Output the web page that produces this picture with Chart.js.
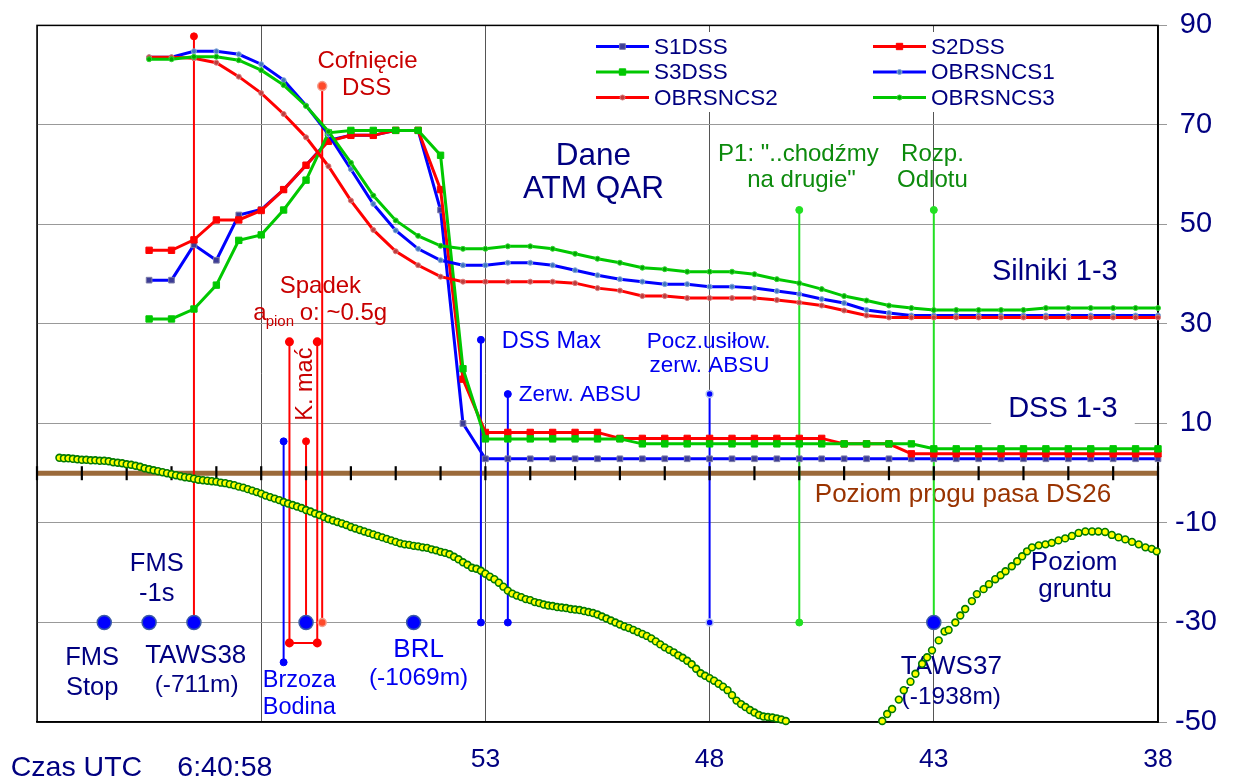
<!DOCTYPE html>
<html>
<head>
<meta charset="utf-8">
<script src="https://cdn.jsdelivr.net/npm/chart.js@4.4.1/dist/chart.umd.min.js"></script>
<style>
  html, body { margin: 0; padding: 0; background: #fff; }
  #wrap { width: 1233px; height: 780px; }
</style>
</head>
<body>
<div id="wrap"><canvas id="chart" width="1233" height="780"></canvas></div>
<script>
// ---- data (x = seconds of 6:40, y = % / height) ----
const times = [60.5, 60, 59.5, 59, 58.5, 58, 57.5, 57, 56.5, 56, 55.5, 55, 54.5, 54, 53.5, 53,
  52.5, 52, 51.5, 51, 50.5, 50, 49.5, 49, 48.5, 48, 47.5, 47, 46.5, 46, 45.5, 45, 44.5, 44, 43.5,
  43, 42.5, 42, 41.5, 41, 40.5, 40, 39.5, 39, 38.5, 38];

const s1dss = [38.8, 38.8, 45.9, 42.8, 51.9, 53.0, 57.0, 61.9, 66.9, 67.9, 67.9, 68.9, 68.9, 52.9, 10.0, 2.9,
  2.9, 2.9, 2.9, 2.9, 2.9, 2.9, 2.9, 2.9, 2.9, 2.9, 2.9, 2.9, 2.9, 2.9, 2.9, 2.9, 2.9, 2.9, 2.9,
  2.9, 2.9, 2.9, 2.9, 2.9, 2.9, 2.9, 2.9, 2.9, 2.9, 2.9];
const s2dss = [44.8, 44.8, 46.9, 50.9, 50.9, 52.8, 57.0, 61.9, 66.7, 67.9, 67.9, 68.9, 68.9, 57.0, 18.9, 8.2,
  8.2, 8.2, 8.2, 8.2, 8.2, 7.0, 7.0, 7.0, 7.0, 7.0, 7.0, 7.0, 7.0, 7.0, 7.0, 5.9, 5.9, 5.9, 3.9,
  3.9, 3.9, 3.9, 3.9, 3.9, 3.9, 3.9, 3.9, 3.9, 3.9, 3.9];
const s3dss = [31.0, 31.0, 33.0, 37.8, 46.8, 47.9, 52.9, 58.9, 68.4, 68.9, 68.9, 68.9, 68.9, 63.9, 21.0, 6.9,
  6.9, 6.9, 6.9, 6.9, 6.9, 6.9, 5.9, 5.9, 5.9, 5.9, 5.9, 5.9, 5.9, 5.9, 5.9, 5.9, 5.9, 5.9, 5.9,
  4.9, 4.9, 4.9, 4.9, 4.9, 4.9, 4.9, 4.9, 4.9, 4.9, 4.9];
const obrsncs1 = [83.6, 83.6, 84.8, 84.8, 84.2, 82.2, 79.0, 73.9, 68.1, 61.1, 54.1, 48.8, 45.1, 42.8, 41.8, 41.8,
  42.3, 42.3, 41.8, 40.8, 39.8, 39.0, 38.5, 38.0, 38.0, 37.5, 37.5, 37.2, 36.6, 36.0, 35.0, 34.2, 32.8, 32.2, 31.7,
  31.7, 31.7, 31.7, 31.7, 31.7, 31.7, 31.7, 31.7, 31.7, 31.7, 31.7];
const obrsncs2 = [83.6, 83.6, 83.4, 82.5, 79.7, 76.4, 72.2, 67.5, 61.7, 54.8, 48.9, 44.6, 41.8, 39.5, 38.5, 38.5,
  38.5, 38.5, 38.5, 38.2, 37.2, 36.7, 35.6, 35.6, 35.2, 35.2, 35.2, 35.2, 34.8, 34.3, 33.7, 32.7, 31.7, 31.3, 31.3,
  31.3, 31.3, 31.3, 31.3, 31.3, 31.3, 31.3, 31.3, 31.3, 31.3, 31.3];
const obrsncs3 = [83.2, 83.2, 83.7, 83.7, 83.0, 81.0, 78.0, 73.8, 68.7, 62.4, 55.8, 50.8, 47.7, 45.7, 45.1, 45.1,
  45.6, 45.6, 45.1, 44.1, 43.1, 42.3, 41.3, 41.0, 40.5, 40.5, 40.5, 40.0, 39.0, 38.2, 37.0, 35.6, 34.7, 33.7, 33.2,
  32.8, 32.8, 32.8, 32.8, 32.8, 33.2, 33.2, 33.2, 33.2, 33.2, 33.2];

// terrain profile ("Poziom gruntu"), before and after the gap
const groundLeftX = [62.5, 62.4, 62.3, 62.2, 62.1, 62.0, 61.9, 61.8, 61.7, 61.6,
  61.5, 61.4, 61.3, 61.2, 61.1, 61.0, 60.9, 60.8, 60.7, 60.6,
  60.5, 60.4, 60.3, 60.2, 60.1, 60.0, 59.9, 59.8, 59.7, 59.6,
  59.5, 59.4, 59.3, 59.2, 59.1, 59.0, 58.9, 58.8, 58.7, 58.6,
  58.5, 58.4, 58.3, 58.2, 58.1, 58.0, 57.9, 57.8, 57.7, 57.6,
  57.5, 57.4, 57.3, 57.2, 57.1, 57.0, 56.9, 56.8, 56.7, 56.6,
  56.5, 56.4, 56.3, 56.2, 56.1, 56.0, 55.9, 55.8, 55.7, 55.6,
  55.5, 55.4, 55.3, 55.2, 55.1, 55.0, 54.9, 54.8, 54.7, 54.6,
  54.5, 54.4, 54.3, 54.2, 54.1, 54.0, 53.9, 53.8, 53.7, 53.6,
  53.5, 53.4, 53.3, 53.2, 53.1, 53.0, 52.9, 52.8, 52.7, 52.6,
  52.5, 52.4, 52.3, 52.2, 52.1, 52.0, 51.9, 51.8, 51.7, 51.6,
  51.5, 51.4, 51.3, 51.2, 51.1, 51.0, 50.9, 50.8, 50.7, 50.6,
  50.5, 50.4, 50.3, 50.2, 50.1, 50.0, 49.9, 49.8, 49.7, 49.6,
  49.5, 49.4, 49.3, 49.2, 49.1, 49.0, 48.9, 48.8, 48.7, 48.6,
  48.5, 48.4, 48.3, 48.2, 48.1, 48.0, 47.9, 47.8, 47.7, 47.6,
  47.5, 47.4, 47.3, 47.2, 47.1, 47.0, 46.9, 46.8, 46.7, 46.6,
  46.5, 46.4, 46.3];
const groundLeftY = [3.1, 3.0, 3.0, 2.9, 2.8, 2.7, 2.7, 2.6, 2.6, 2.5,
  2.5, 2.4, 2.2, 2.1, 2.0, 1.8, 1.7, 1.5, 1.3, 1.0,
  0.8, 0.6, 0.4, 0.2, 0.0, -0.2, -0.4, -0.6, -0.8, -0.9,
  -1.1, -1.3, -1.4, -1.5, -1.6, -1.7, -1.9, -2.0, -2.2, -2.4,
  -2.7, -2.9, -3.2, -3.5, -3.8, -4.1, -4.5, -4.8, -5.1, -5.4,
  -5.8, -6.1, -6.4, -6.7, -7.0, -7.4, -7.7, -8.1, -8.4, -8.8,
  -9.2, -9.5, -9.8, -10.1, -10.4, -10.8, -11.1, -11.4, -11.7, -12.0,
  -12.3, -12.6, -12.9, -13.2, -13.5, -13.8, -14.1, -14.3, -14.4, -14.6,
  -14.7, -14.9, -15.0, -15.3, -15.5, -15.8, -16.0, -16.3, -16.8, -17.3,
  -17.9, -18.4, -19.0, -19.2, -19.6, -20.2, -20.8, -21.3, -22.0, -22.8,
  -23.6, -24.2, -24.6, -24.9, -25.3, -25.5, -25.9, -26.1, -26.4, -26.6,
  -26.7, -26.9, -27.0, -27.1, -27.3, -27.4, -27.5, -27.7, -27.9, -28.1,
  -28.4, -28.8, -29.2, -29.6, -30.0, -30.4, -30.8, -31.1, -31.5, -31.9,
  -32.3, -32.7, -33.2, -33.8, -34.4, -35.0, -35.5, -36.0, -36.6, -37.1,
  -37.7, -38.4, -39.3, -40.2, -40.7, -41.2, -41.7, -42.3, -42.9, -43.6,
  -44.6, -45.7, -46.4, -47.0, -47.6, -48.1, -48.6, -48.9, -49.0, -49.1,
  -49.3, -49.5, -49.8];
const groundRightX = [44.15, 44.04, 43.93, 43.78, 43.67, 43.52, 43.41, 43.26, 43.15, 43.04,
  42.89, 42.76, 42.67, 42.52, 42.41, 42.30, 42.15, 42.04, 41.89, 41.77,
  41.63, 41.51, 41.40, 41.26, 41.14, 41.03, 40.92, 40.81, 40.66, 40.51,
  40.37, 40.22, 40.07, 39.92, 39.77, 39.62, 39.47, 39.33, 39.18, 39.03,
  38.88, 38.73, 38.58, 38.43, 38.28, 38.14, 38.03];
const groundRightY = [-49.8, -48.4, -47.4, -45.5, -43.6, -41.9, -40.3, -38.3, -37.0, -35.6,
  -33.6, -31.8, -31.5, -30.0, -28.6, -27.3, -25.7, -24.3, -23.3, -22.3,
  -21.3, -20.5, -19.7, -18.7, -17.7, -16.7, -15.7, -14.9, -14.5, -14.3,
  -14.0, -13.5, -13.1, -12.6, -12.0, -11.7, -11.7, -11.7, -11.8, -12.4,
  -12.9, -13.3, -13.8, -14.3, -14.9, -15.2, -15.7];

// events
const milestoneTimes = [61.5, 60.5, 59.5, 57.0, 54.6, 43.0];
const milestoneLevel = -30;
const eventTimes = [59.5, 57.5, 57.0, 56.64, 53.1, 52.5, 48.0, 46.0, 43.0];
const eventBottoms = [-30, -38, -30, -30, -30, -30, -30, -30, -30];
const eventTops = [87.8, 6.4, 6.4, 77.8, 26.8, 15.9, 15.9, 52.9, 52.9];
const bracketTimes = [57.37, 56.75];
const bracketTop = 26.4;
const bracketBottom = -34.1;
const runwayLevel = 0;
const secondTicks = [63, 62, 61, 60, 59, 58, 57, 56, 55, 54, 53, 52, 51, 50, 49, 48, 47, 46,
  45, 44, 43, 42, 41, 40, 39, 38];

// axes
const xMin = 38, xMax = 63, xStep = 5;
const yMin = -50, yMax = 90, yStep = 20;

// ---- styles ----
const FONT = "'Liberation Sans', Arial, sans-serif";
const NAVY = "#000080";
const BLUE = "#0000f0";
const DARKRED = "#c80000";
const TXTGREEN = "#0c8a0c";
const BROWN = "#993300";
const LBLUE = "#0000ff", LRED = "#ff0000", LGREEN = "#00c800", LIME = "#22e022";

const eventStyles = [
  { color: LRED, dots: [0, 3.5] },
  { color: LBLUE, dots: [3.5, 3.5] },
  { color: LRED, dots: [0, 3.5] },
  { color: LRED, fill: "#ff4a2a", edge: "#f4a090", dots: [4, 4.5] },
  { color: LBLUE, dots: [3.5, 3.5] },
  { color: LBLUE, dots: [3.5, 3.5] },
  { color: LBLUE, edge: "#b8c8f0", dots: [3.5, 3.5] },
  { color: LIME, dots: [3.5, 3.5] },
  { color: LIME, dots: [0, 3.5] },
];

const notes = [
  { text: "Cofnięcie", x: 55.63, y: 82.7, color: DARKRED, size: 24 },
  { text: "DSS", x: 55.65, y: 77.4, color: DARKRED, size: 24 },
  { text: "Spadek", x: 56.68, y: 37.5, color: DARKRED, size: 24 },
  { text: "a", x: 58.18, y: 30.7, color: DARKRED, size: 24, align: "left", base: "alphabetic" },
  { text: "pion", x: 57.90, y: 29.5, color: DARKRED, size: 15, align: "left", base: "alphabetic" },
  { text: "o: ~0.5g", x: 57.14, y: 30.7, color: DARKRED, size: 24, align: "left", base: "alphabetic" },
  { text: "K. mać", x: 57.01, y: 17.9, color: DARKRED, size: 23.5, rotate: true },
  { text: "Dane", x: 50.59, y: 63.7, color: NAVY, size: 31.5 },
  { text: "ATM QAR", x: 50.59, y: 57.1, color: NAVY, size: 31.5 },
  { text: "P1: \"..chodźmy", x: 46.02, y: 64.1, color: TXTGREEN, size: 24 },
  { text: "na drugie\"", x: 45.95, y: 58.8, color: TXTGREEN, size: 24 },
  { text: "Rozp.", x: 43.03, y: 64.1, color: TXTGREEN, size: 24 },
  { text: "Odlotu", x: 43.03, y: 58.8, color: TXTGREEN, size: 24 },
  { text: "Silniki 1-3", x: 40.30, y: 40.5, color: NAVY, size: 29 },
  { text: "DSS 1-3", x: 40.12, y: 12.9, color: NAVY, size: 29, box: true },
  { text: "DSS Max", x: 51.53, y: 26.5, color: BLUE, size: 23.5 },
  { text: "Zerw. ABSU", x: 50.89, y: 15.7, color: BLUE, size: 22.5 },
  { text: "Pocz.usiłow.", x: 48.02, y: 26.5, color: BLUE, size: 22.5 },
  { text: "zerw. ABSU", x: 48.0, y: 21.55, color: BLUE, size: 22.5 },
  { text: "Poziom progu pasa DS26", x: 42.35, y: -4.3, color: BROWN, size: 26 },
  { text: "Poziom", x: 39.87, y: -18.0, color: NAVY, size: 26 },
  { text: "gruntu", x: 39.85, y: -23.5, color: NAVY, size: 26 },
  { text: "FMS", x: 60.33, y: -18.2, color: NAVY, size: 25.5 },
  { text: "-1s", x: 60.33, y: -24.3, color: NAVY, size: 25.5 },
  { text: "FMS", x: 61.77, y: -37.1, color: NAVY, size: 25.5 },
  { text: "Stop", x: 61.77, y: -43.1, color: NAVY, size: 25.5 },
  { text: "TAWS38", x: 59.46, y: -36.8, color: NAVY, size: 26 },
  { text: "(-711m)", x: 59.44, y: -42.6, color: NAVY, size: 24.5 },
  { text: "Brzoza", x: 57.15, y: -41.6, color: BLUE, size: 23.5 },
  { text: "Bodina", x: 57.15, y: -47.1, color: BLUE, size: 23.5 },
  { text: "BRL", x: 54.49, y: -35.5, color: BLUE, size: 26 },
  { text: "(-1069m)", x: 54.49, y: -41.3, color: BLUE, size: 24.5 },
  { text: "TAWS37", x: 42.61, y: -39.0, color: NAVY, size: 26 },
  { text: "(-1938m)", x: 42.61, y: -45.1, color: NAVY, size: 24.5 },
  { text: "Czas UTC", x: 62.12, y: -59.2, color: NAVY, size: 28.5 },
  { text: "6:40:58", x: 58.81, y: -59.2, color: NAVY, size: 28.5 },
];

function pts(xs, ys) {
  return xs.map((x, i) => ({ x: x, y: ys[i] }));
}

function series(label, values, color, marker, order) {
  return Object.assign({
    label: label,
    data: pts(times, values),
    borderColor: color,
    borderWidth: 3,
    tension: 0,
    fill: false,
    clip: false,
    order: order,
  }, marker);
}

const squareBlue = { pointStyle: "rect", pointRadius: 4, pointBackgroundColor: "#3c3c96", pointBorderColor: "#7a7aa8", pointBorderWidth: 1 };
const squareRed = { pointStyle: "rect", pointRadius: 4.5, pointBackgroundColor: LRED, pointBorderColor: LRED, pointBorderWidth: 1 };
const squareGreen = { pointStyle: "rect", pointRadius: 4.5, pointBackgroundColor: LGREEN, pointBorderColor: LGREEN, pointBorderWidth: 1 };
const dotBlue = { pointStyle: "circle", pointRadius: 2.5, pointBackgroundColor: "#3f74c0", pointBorderColor: "#86a8d8", pointBorderWidth: 1 };
const dotRed = { pointStyle: "circle", pointRadius: 2.5, pointBackgroundColor: "#c03c3c", pointBorderColor: "#d87a7a", pointBorderWidth: 1 };
const dotGreen = { pointStyle: "circle", pointRadius: 2.5, pointBackgroundColor: "#00a800", pointBorderColor: "#30d830", pointBorderWidth: 1 };

const datasets = [
  series("S1DSS", s1dss, LBLUE, squareBlue, 15),
  series("S2DSS", s2dss, LRED, squareRed, 14),
  series("S3DSS", s3dss, LGREEN, squareGreen, 13),
  series("OBRSNCS1", obrsncs1, LBLUE, dotBlue, 12),
  series("OBRSNCS2", obrsncs2, LRED, dotRed, 11),
  series("OBRSNCS3", obrsncs3, LGREEN, dotGreen, 10),
];

const groundStyle = {
  showLine: false, pointStyle: "circle", pointRadius: 3.4, pointBackgroundColor: "#ffff00",
  pointBorderColor: "#007a00", pointBorderWidth: 1.6, clip: false, order: 0,
};
datasets.push(Object.assign({ label: "grunt1", data: pts(groundLeftX, groundLeftY) }, groundStyle));
datasets.push(Object.assign({ label: "grunt2", data: pts(groundRightX, groundRightY) }, groundStyle));

datasets.push({
  label: "milestones",
  data: milestoneTimes.map(t => ({ x: t, y: milestoneLevel })),
  showLine: false, pointRadius: 7, pointBackgroundColor: "#0000ff",
  pointBorderColor: "#3a5aa8", pointBorderWidth: 1.5, clip: false, order: 1,
});

eventTimes.forEach(function (t, i) {
  const st = eventStyles[i];
  datasets.push({
    label: "event" + i,
    data: [{ x: t, y: eventBottoms[i] }, { x: t, y: eventTops[i] }],
    borderColor: st.color, borderWidth: 2, tension: 0, fill: false,
    pointRadius: st.dots, pointBackgroundColor: st.fill || st.color,
    pointBorderColor: st.edge || st.fill || st.color, pointBorderWidth: st.edge ? 1.5 : 1,
    clip: false, order: 20,
  });
});

datasets.push({
  label: "bracket",
  data: [{ x: bracketTimes[0], y: bracketTop }, { x: bracketTimes[0], y: bracketBottom },
    { x: bracketTimes[1], y: bracketBottom }, { x: bracketTimes[1], y: bracketTop }],
  borderColor: LRED, borderWidth: 2, tension: 0, fill: false,
  pointRadius: 3.5, pointBackgroundColor: LRED, pointBorderColor: LRED, clip: false, order: 20,
});

datasets.push({
  label: "ticks",
  data: secondTicks.map(t => ({ x: t, y: runwayLevel })),
  showLine: false, pointStyle: "line", pointRotation: 90, pointRadius: 7,
  pointBorderColor: "#000", pointBorderWidth: 2.2, clip: false, order: 2,
});

datasets.push({
  label: "runway",
  data: [{ x: xMax, y: runwayLevel }, { x: xMin, y: runwayLevel }],
  borderColor: "#9b6a3a", borderWidth: 5, pointRadius: 0, clip: false, order: 50,
});

const legendItems = [
  { label: "S1DSS", col: 0, row: 0 }, { label: "S2DSS", col: 1, row: 0 },
  { label: "S3DSS", col: 0, row: 1 }, { label: "OBRSNCS1", col: 1, row: 1 },
  { label: "OBRSNCS2", col: 0, row: 2 }, { label: "OBRSNCS3", col: 1, row: 2 },
];

const notesPlugin = {
  id: "notes",
  beforeDatasetsDraw(chart) {
    const { ctx, chartArea, scales } = chart;
    const xs = scales.x, ys = scales.y;
    ctx.save();

    // legend box
    ctx.fillStyle = "#fff";
    ctx.fillRect(585, 32, 495, 80);
    const colX = [596, 873];
    const rowY = [46.5, 72, 97.5];
    legendItems.forEach(function (it) {
      const ds = chart.data.datasets.find(d => d.label === it.label);
      const x0 = colX[it.col], y0 = rowY[it.row];
      ctx.strokeStyle = ds.borderColor;
      ctx.lineWidth = 3;
      ctx.beginPath();
      ctx.moveTo(x0, y0);
      ctx.lineTo(x0 + 53, y0);
      ctx.stroke();
      ctx.fillStyle = ds.pointBackgroundColor;
      ctx.strokeStyle = ds.pointBorderColor;
      ctx.lineWidth = ds.pointBorderWidth;
      Chart.helpers.drawPoint(ctx, { pointStyle: ds.pointStyle, radius: ds.pointRadius, rotation: 0, borderWidth: ds.pointBorderWidth }, x0 + 26.5, y0);
      ctx.fillStyle = NAVY;
      ctx.font = "22.5px " + FONT;
      ctx.textAlign = "left";
      ctx.textBaseline = "middle";
      ctx.fillText(it.label, x0 + 58, y0 + 1);
    });

    notes.forEach(function (n) {
      const px = xs.getPixelForValue(n.x);
      const py = ys.getPixelForValue(n.y);
      ctx.font = n.size + "px " + FONT;
      ctx.textAlign = n.align || "center";
      ctx.textBaseline = n.base || "middle";
      if (n.box) {
        const w = ctx.measureText(n.text).width;
        ctx.fillStyle = "#fff";
        ctx.fillRect(px - w / 2 - 17, py - 14, w + 34, 30);
      }
      ctx.fillStyle = n.color;
      if (n.rotate) {
        ctx.save();
        ctx.translate(px, py);
        ctx.rotate(-Math.PI / 2);
        ctx.fillText(n.text, 0, 0);
        ctx.restore();
      } else {
        ctx.fillText(n.text, px, py);
      }
    });

    // plot frame
    ctx.strokeStyle = "#000";
    ctx.lineWidth = 1.5;
    ctx.strokeRect(chartArea.left, chartArea.top, chartArea.right - chartArea.left, chartArea.bottom - chartArea.top);
    ctx.restore();
  },
};

new Chart(document.getElementById("chart").getContext("2d"), {
  type: "line",
  data: { datasets: datasets },
  options: {
    responsive: false,
    animation: false,
    events: [],
    layout: { padding: { left: 37, top: 20, right: 0, bottom: 0 } },
    plugins: { legend: { display: false }, tooltip: { enabled: false } },
    scales: {
      x: {
        type: "linear",
        reverse: true,
        min: xMin,
        max: xMax,
        grid: { color: "#555", lineWidth: 1, drawTicks: false },
        border: { display: true, color: "#000", width: 1.5 },
        ticks: {
          stepSize: xStep,
          autoSkip: false,
          maxRotation: 0,
          color: NAVY,
          padding: 22,
          font: { family: FONT, size: 26.5 },
          callback: v => (v === 58 || v === 63) ? "" : String(v),
        },
        afterFit: s => { s.height = 58; },
      },
      y: {
        position: "right",
        min: yMin,
        max: yMax,
        grid: { color: "#999", lineWidth: 1, tickLength: 9 },
        border: { display: true, color: "#000", width: 1.5 },
        ticks: {
          stepSize: yStep,
          color: NAVY,
          padding: 8,
          crossAlign: "center",
          font: { family: FONT, size: 29 },
        },
        afterFit: s => { s.width = 75; },
      },
    },
  },
  plugins: [notesPlugin],
});
</script>
</body>
</html>
